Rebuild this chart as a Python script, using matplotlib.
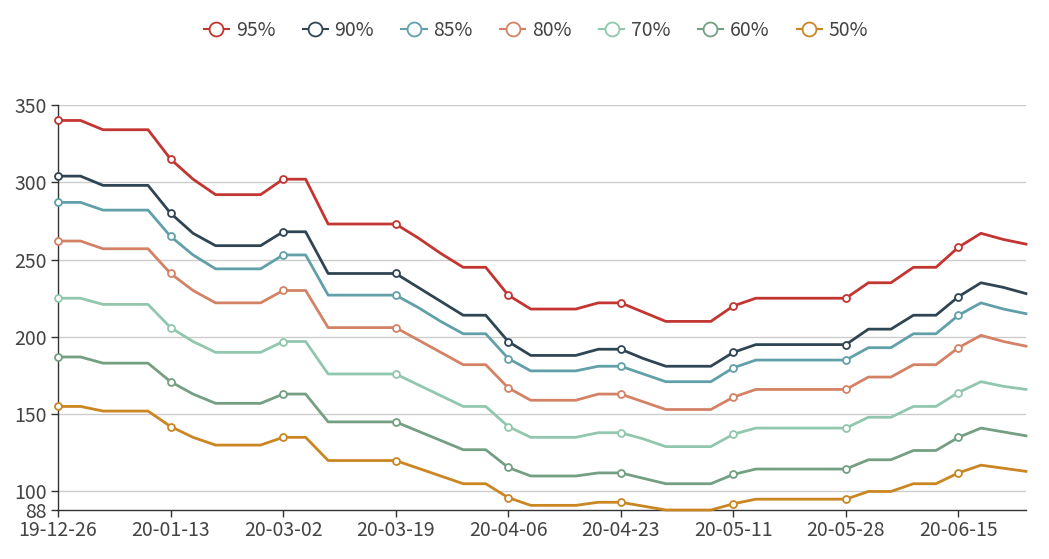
import matplotlib
matplotlib.use("Agg")
import matplotlib.pyplot as plt
from matplotlib.lines import Line2D

plt.rcParams['font.family'] = ['Noto Sans CJK SC', 'DejaVu Sans']

dates = ['19-12-26', '19-12-30', '20-01-02', '20-01-06', '20-01-09',
         '20-01-13', '20-01-16', '20-02-20', '20-02-24', '20-02-27',
         '20-03-02', '20-03-05', '20-03-09', '20-03-12', '20-03-16',
         '20-03-19', '20-03-23', '20-03-26', '20-03-30', '20-04-02',
         '20-04-06', '20-04-09', '20-04-13', '20-04-16', '20-04-20',
         '20-04-23', '20-04-27', '20-04-30', '20-05-04', '20-05-07',
         '20-05-11', '20-05-14', '20-05-18', '20-05-21', '20-05-25',
         '20-05-28', '20-06-01', '20-06-04', '20-06-08', '20-06-11',
         '20-06-15', '20-06-18', '20-06-22', '20-06-25']

p95 = [340, 340, 334, 334, 334, 315, 302, 292, 292, 292, 302, 302, 273, 273, 273,
       273, 264, 254, 245, 245, 227, 218, 218, 218, 222, 222, 216, 210, 210, 210,
       220, 225, 225, 225, 225, 225, 235, 235, 245, 245, 258, 267, 263, 260]
p90 = [304, 304, 298, 298, 298, 280, 267, 259, 259, 259, 268, 268, 241, 241, 241,
       241, 232, 223, 214, 214, 197, 188, 188, 188, 192, 192, 186, 181, 181, 181,
       190, 195, 195, 195, 195, 195, 205, 205, 214, 214, 226, 235, 232, 228]
p85 = [287, 287, 282, 282, 282, 265, 253, 244, 244, 244, 253, 253, 227, 227, 227,
       227, 219, 210, 202, 202, 186, 178, 178, 178, 181, 181, 176, 171, 171, 171,
       180, 185, 185, 185, 185, 185, 193, 193, 202, 202, 214, 222, 218, 215]
p80 = [262, 262, 257, 257, 257, 241, 230, 222, 222, 222, 230, 230, 206, 206, 206,
       206, 198, 190, 182, 182, 167, 159, 159, 159, 163, 163, 158, 153, 153, 153,
       161, 166, 166, 166, 166, 166, 174, 174, 182, 182, 193, 201, 197, 194]
p70 = [225, 225, 221, 221, 221, 206, 197, 190, 190, 190, 197, 197, 176, 176, 176,
       176, 169, 162, 155, 155, 142, 135, 135, 135, 138, 138, 134, 129, 129, 129,
       137, 141, 141, 141, 141, 141, 148, 148, 155, 155, 164, 171, 168, 166]
p60 = [187, 187, 183, 183, 183, 171, 163, 157, 157, 157, 163, 163, 145, 145, 145,
       145, 139, 133, 127, 127, 115.5, 110, 110, 110, 112, 112, 108.5, 105, 105, 105,
       111, 114.5, 114.5, 114.5, 114.5, 114.5, 120.5, 120.5, 126.5, 126.5, 135, 141, 138.5, 136]
p50 = [155, 155, 152, 152, 152, 142, 135, 130, 130, 130, 135, 135, 120, 120, 120,
       120, 115, 110, 105, 105, 96, 91, 91, 91, 93, 93, 90.5, 88, 88, 88,
       92, 95, 95, 95, 95, 95, 100, 100, 105, 105, 112, 117, 115, 113]

names = ['95%', '90%', '85%', '80%', '70%', '60%', '50%']
series = [p95, p90, p85, p80, p70, p60, p50]
colors = ['#c23531', '#2f4554', '#61a0a8', '#d48265', '#91c7ae', '#749f83', '#ca8622']
yticks = [88, 100, 150, 200, 250, 300, 350]

fig = plt.figure(figsize=(10.49, 5.59), dpi=100)
ax = fig.add_axes([58 / 1049, 1 - 510 / 559, 968 / 1049, 405 / 559])

x = list(range(len(dates)))
handles = []
for name, vals, c in zip(names, series, colors):
    ax.plot(x, vals, color=c, lw=2, marker='o', ms=5, mfc='white', mec=c, mew=1.3,
            markevery=list(range(0, len(dates), 5)), clip_on=False, zorder=3)
    handles.append(Line2D([], [], color=c, lw=1.5, marker='o', ms=10, mfc='white', mec=c, mew=1.3))

ax.set_xlim(0, len(dates) - 1)
ax.set_ylim(88, 350)
ax.set_yticks(yticks)
ax.set_xticks(x[::5])
ax.set_xticklabels(dates[::5])
ax.tick_params(axis='both', labelsize=14, colors='#333333', length=5, width=1, pad=2)
ax.tick_params(axis='x', labelcolor='#444444')
ax.tick_params(axis='y', labelcolor='#444444', pad=3)

for v in yticks[1:]:
    ax.axhline(v, color='#cccccc', lw=1, zorder=1)

for s in ['top', 'right']:
    ax.spines[s].set_visible(False)
for s in ['left', 'bottom']:
    ax.spines[s].set_color('#333333')
    ax.spines[s].set_linewidth(1)

fig.legend(handles, names, loc='center', bbox_to_anchor=(536 / 1049, 1 - 30 / 559), ncol=7,
           frameon=False, fontsize=14, handlelength=1.3, handletextpad=0.35,
           columnspacing=1.4, labelcolor='#444444')

fig.savefig('out.png', dpi=100)
